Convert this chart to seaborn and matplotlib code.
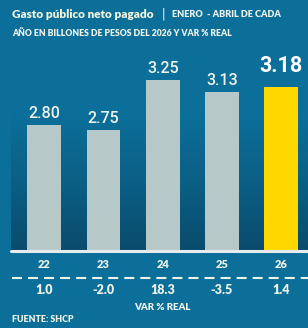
import matplotlib
matplotlib.use("Agg")
import matplotlib.pyplot as plt
import matplotlib.transforms as mtransforms
from matplotlib.lines import Line2D
from matplotlib.colors import LinearSegmentedColormap
import numpy as np
import seaborn as sns

years = ["22", "23", "24", "25", "26"]
values = [2.80, 2.75, 3.25, 3.13, 3.18]
value_labels = ["2.80", "2.75", "3.25", "3.13", "3.18"]
var_real = ["1.0", "-2.0", "18.3", "-3.5", "1.4"]

title_main = "Gasto público neto pagado"
title_side = "ENERO  - ABRIL DE CADA"
subtitle = "AÑO EN BILLONES DE PESOS DEL 2026 Y VAR % REAL"
var_title = "VAR % REAL"
source = "FUENTE: SHCP"

bg = "#0c6f9a"
bar_gray = "#b6c9c8"
yellow = "#ffd800"
txt = "#eef3ea"
narrow = ["Lato", "DejaVu Sans"]

sns.set_theme(style="white")
plt.rcParams["font.family"] = ["Roboto", "DejaVu Sans"]

W, H = 308, 328
fig = plt.figure(figsize=(W / 100, H / 100), dpi=100, facecolor=bg)

def fy(py):
    return 1 - py / H

ax = fig.add_axes([11 / W, fy(251), 1 - 11 / W, fy(45) - fy(251)])
ax.set_facecolor(bg)

# darker gradient towards the bottom of the plot area
grad_cmap = LinearSegmentedColormap.from_list("g", ["#0a4b6c", "#0b5f85", bg, bg])
grad = np.linspace(0, 1, 256).reshape(-1, 1)
ax.imshow(grad, cmap=grad_cmap, aspect="auto", extent=[0, 1, 0, 1],
          transform=ax.transAxes, origin="lower", zorder=0)

colors = [bar_gray] * 4 + [yellow]
sns.barplot(x=years, y=values, hue=years, palette=colors, legend=False,
            width=0.57, saturation=1, ax=ax, zorder=2, linewidth=0)

ax.set_xlim(-0.56, 4.45)
ax.set_ylim(1.54, 3.60)
ax.axis("off")
ax.axhline(1.54, color="#e6ecee", lw=2.2, zorder=3, clip_on=False)

for i, (v, lab) in enumerate(zip(values, value_labels)):
    if i == len(values) - 1:
        ax.text(i, v + 0.10, lab, ha="center", va="bottom", color="white",
                fontsize=15.5, fontweight="bold", zorder=4, clip_on=False)
    else:
        ax.text(i, v + 0.04, lab, ha="center", va="bottom", color=txt,
                fontsize=11.5, fontweight="medium", zorder=4)

blend = mtransforms.blended_transform_factory(ax.transData, fig.transFigure)
for i, (yr, vr) in enumerate(zip(years, var_real)):
    ax.text(i, fy(265), yr, transform=blend, ha="center", va="center",
            color=txt, fontsize=8, fontweight="heavy", family=narrow)
    ax.text(i, fy(290), vr, transform=blend, ha="center", va="center",
            color=txt, fontsize=9, fontweight="heavy", family=narrow)

dash = Line2D([12 / W, 1], [fy(278), fy(278)], transform=fig.transFigure,
              color=txt, lw=1.5, linestyle=(0, (4.8, 2.9)))
fig.add_artist(dash)

ax.text(2, fy(307), var_title, transform=blend, ha="center", va="center",
        color=txt, fontsize=7, fontweight="heavy", family=narrow)
fig.text(12 / W, fy(320), source, ha="left", va="center", color=txt,
         fontsize=6.4, fontweight="heavy", family=narrow)

fig.text(12 / W, fy(14), title_main, ha="left", va="center", color="#f2f4dc",
         fontsize=8.5, fontweight="heavy", family=narrow)
fig.text(162 / W, fy(14), "|", ha="left", va="center", color=txt, fontsize=10)
fig.text(172 / W, fy(14.5), title_side, ha="left", va="center", color=txt,
         fontsize=6.6, fontweight="heavy", family=narrow)
fig.text(12 / W, fy(33), subtitle, ha="left", va="center", color=txt,
         fontsize=6.2, fontweight="heavy", family=narrow)

fig.savefig("out.png", dpi=100, facecolor=bg)
